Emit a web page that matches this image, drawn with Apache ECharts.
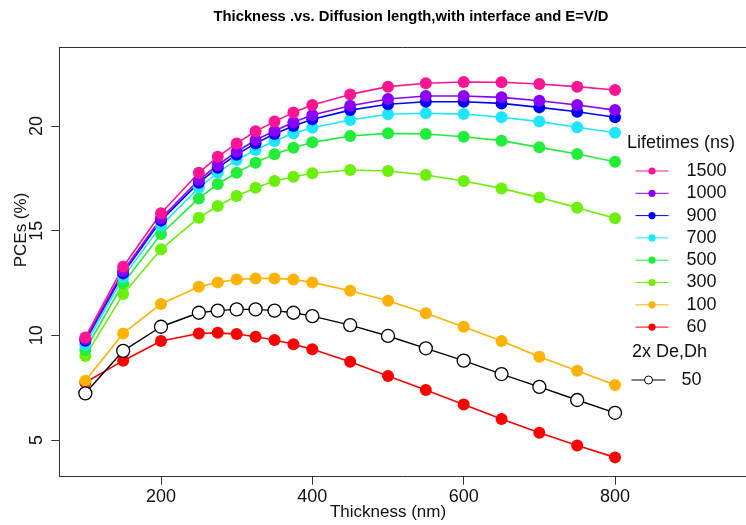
<!DOCTYPE html>
<html>
<head>
<meta charset="utf-8">
<script src="https://cdn.jsdelivr.net/npm/echarts@6/dist/echarts.min.js"></script>
<style>
  html, body { margin: 0; padding: 0; background: #fff; }
  #chart { width: 746px; height: 525px; }
</style>
</head>
<body>
<div id="chart"></div>
<script>
// Device thickness (nm)
const thickness = [100, 150, 200, 250, 275, 300, 325, 350, 375, 400, 450, 500, 550, 600, 650, 700, 750, 800];

// PCE (%) for each carrier lifetime (ns)
const pce1500 = [9.90, 13.28, 15.83, 17.77, 18.53, 19.17, 19.75, 20.21, 20.65, 21.00, 21.51, 21.88, 22.04, 22.10, 22.09, 22.01, 21.88, 21.72];
const pce1000 = [9.82, 13.07, 15.59, 17.42, 18.14, 18.77, 19.33, 19.76, 20.18, 20.53, 20.97, 21.29, 21.43, 21.43, 21.37, 21.21, 21.00, 20.76];
const pce900  = [9.74, 12.96, 15.48, 17.29, 18.01, 18.63, 19.17, 19.62, 20.00, 20.32, 20.76, 21.04, 21.16, 21.16, 21.08, 20.89, 20.68, 20.42];
const pce700  = [9.54, 12.77, 15.24, 17.05, 17.77, 18.38, 18.85, 19.28, 19.65, 19.92, 20.29, 20.56, 20.61, 20.57, 20.42, 20.21, 19.94, 19.68];
const pce500  = [9.30, 12.48, 14.84, 16.54, 17.23, 17.77, 18.25, 18.65, 18.96, 19.22, 19.52, 19.65, 19.62, 19.49, 19.30, 18.98, 18.66, 18.29];
const pce300  = [9.01, 11.97, 14.11, 15.62, 16.18, 16.66, 17.05, 17.37, 17.58, 17.74, 17.90, 17.85, 17.66, 17.37, 17.02, 16.58, 16.10, 15.59];
const pce100  = [7.83, 10.09, 11.50, 12.32, 12.53, 12.67, 12.72, 12.72, 12.67, 12.53, 12.13, 11.65, 11.05, 10.41, 9.73, 8.98, 8.31, 7.63];
const pce60   = [7.75, 8.79, 9.73, 10.09, 10.12, 10.06, 9.93, 9.78, 9.57, 9.33, 8.74, 8.06, 7.39, 6.70, 6.00, 5.35, 4.74, 4.17];
// 60 ns lifetime with doubled De, Dh (labelled 50)
const pce50x2 = [7.23, 9.26, 10.41, 11.08, 11.18, 11.24, 11.24, 11.18, 11.08, 10.92, 10.49, 9.97, 9.38, 8.79, 8.15, 7.54, 6.91, 6.30];

const lifetimeNames = ['1500', '1000', '900', '700', '500', '300', '100', '60'];
const doubledNames = ['50'];
const xTicks = [200, 400, 600, 800];
const yTicks = [5, 10, 15, 20];

const FONT = '"Liberation Sans", Arial, Helvetica, sans-serif';

function pairs(vals) {
  return thickness.map((t, i) => [t, vals[i]]);
}

function filledSeries(name, vals, color) {
  return {
    name: name,
    type: 'line',
    xAxisIndex: 0,
    data: pairs(vals),
    symbol: 'circle',
    symbolSize: 12,
    lineStyle: { color: color, width: 1.6 },
    itemStyle: { color: color },
    emphasis: { disabled: true }
  };
}

// drawn from the lowest curve up so the higher-lifetime dots sit on top
const series = [
  filledSeries('60', pce60, '#FF0000'),
  filledSeries('100', pce100, '#FFB300'),
  filledSeries('300', pce300, '#6CF00A'),
  filledSeries('500', pce500, '#22EE3A'),
  filledSeries('700', pce700, '#1FE6FF'),
  filledSeries('900', pce900, '#0000FF'),
  filledSeries('1000', pce1000, '#8A00FF'),
  filledSeries('1500', pce1500, '#FF1493'),
  {
    name: '50',
    type: 'line',
    xAxisIndex: 0,
    data: pairs(pce50x2),
    symbol: 'circle',
    symbolSize: 13,
    lineStyle: { color: '#000', width: 1.4 },
    itemStyle: { color: '#fff', borderColor: '#000', borderWidth: 1.3 },
    emphasis: { disabled: true }
  }
];

const chart = echarts.init(document.getElementById('chart'), null, { renderer: 'canvas' });

const xRange = { min: 65.6, max: 973.1 };

chart.setOption({
  animation: false,
  backgroundColor: '#fff',
  textStyle: { fontFamily: FONT },
  title: {
    text: 'Thickness .vs. Diffusion length,with interface and E=V/D',
    left: 406,
    textAlign: 'center',
    top: 4,
    textStyle: { fontFamily: FONT, fontSize: 14.8, fontWeight: 'bold', color: '#000' }
  },
  grid: {
    left: 59.3,
    top: 47.3,
    bottom: 48.3,
    right: 0
  },
  xAxis: [
    {
      type: 'value',
      position: 'bottom',
      min: xRange.min,
      max: xRange.max,
      axisLine: { show: true, lineStyle: { color: '#333', width: 1 } },
      axisTick: { show: true, length: 8, customValues: xTicks, lineStyle: { color: '#333' } },
      axisLabel: {
        customValues: xTicks,
        margin: 11,
        fontSize: 18,
        color: '#111',
        fontFamily: FONT
      },
      splitLine: { show: false }
    },
    {
      // top edge of the frame
      type: 'value',
      position: 'top',
      min: xRange.min,
      max: xRange.max,
      axisLine: { show: true, onZero: false, lineStyle: { color: '#333', width: 1 } },
      axisTick: { show: false },
      axisLabel: { show: false },
      splitLine: { show: false }
    }
  ],
  yAxis: {
    type: 'value',
    min: 3.247,
    max: 23.76,
    axisLine: { show: true, onZero: false, lineStyle: { color: '#333', width: 1 } },
    axisTick: { show: true, length: 8, customValues: yTicks, lineStyle: { color: '#333' } },
    axisLabel: {
      customValues: yTicks,
      rotate: 90,
      margin: 13,
      fontSize: 18,
      color: '#111',
      fontFamily: FONT
    },
    splitLine: { show: false }
  },
  legend: [
    {
      data: lifetimeNames,
      orient: 'vertical',
      left: 635,
      top: 162,
      padding: 0,
      itemWidth: 33,
      itemHeight: 9,
      itemGap: 4.3,
      selectedMode: false,
      lineStyle: { width: 1 },
      textStyle: { fontFamily: FONT, fontSize: 18, color: '#111', lineHeight: 18, padding: [0, 0, 0, 13] }
    },
    {
      data: doubledNames,
      orient: 'vertical',
      left: 631,
      top: 371,
      padding: 0,
      itemWidth: 34,
      itemHeight: 10,
      selectedMode: false,
      lineStyle: { width: 1 },
      itemStyle: { borderWidth: 1 },
      textStyle: { fontFamily: FONT, fontSize: 18, color: '#111', lineHeight: 18, padding: [0, 0, 0, 11] }
    }
  ],
  graphic: [
    {
      type: 'text',
      x: 21.5, y: 230,
      rotation: Math.PI / 2,
      style: { text: 'PCEs (%)', font: '17px ' + FONT, fill: '#111', align: 'center', verticalAlign: 'middle' }
    },
    {
      type: 'text',
      x: 388, y: 512,
      style: { text: 'Thickness (nm)', font: '17px ' + FONT, fill: '#111', align: 'center', verticalAlign: 'middle' }
    },
    {
      type: 'text',
      x: 627, y: 143,
      style: { text: 'Lifetimes (ns)', font: '18px ' + FONT, fill: '#111', align: 'left', verticalAlign: 'middle' }
    },
    {
      type: 'text',
      x: 632, y: 352,
      style: { text: '2x De,Dh', font: '18px ' + FONT, fill: '#111', align: 'left', verticalAlign: 'middle' }
    }
  ],
  series: series
});
</script>
</body>
</html>
